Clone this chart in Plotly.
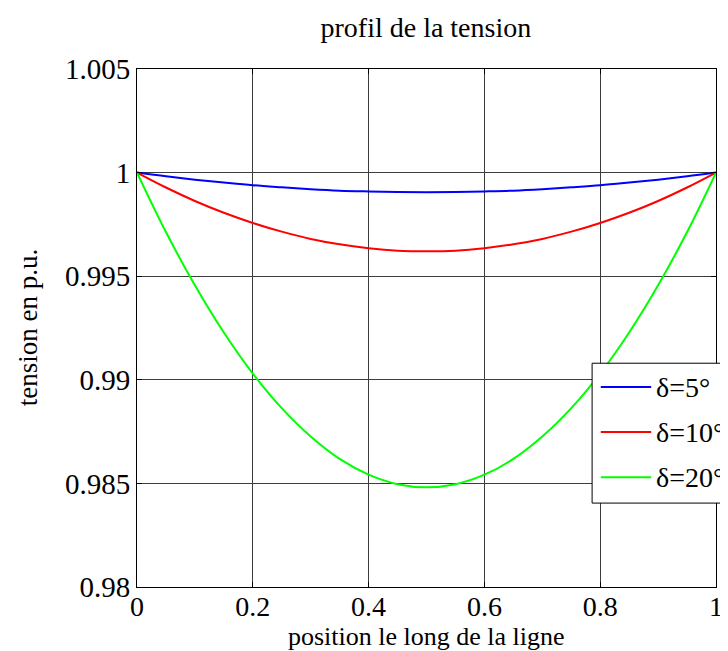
import plotly.graph_objects as go

# position along the line (p.u.)
position = [0.00, 0.05, 0.10, 0.15, 0.20, 0.25, 0.30, 0.35, 0.40, 0.45, 0.50,
            0.55, 0.60, 0.65, 0.70, 0.75, 0.80, 0.85, 0.90, 0.95, 1.00]

# voltage profiles
v_delta5 = [1.00000, 0.99982, 0.99966, 0.99952, 0.99939, 0.99929, 0.99920, 0.99913,
            0.99909, 0.99906, 0.99905, 0.99906, 0.99909, 0.99913, 0.99920, 0.99929,
            0.99939, 0.99952, 0.99966, 0.99982, 1.00000]
v_delta10 = [1.00000, 0.99928, 0.99863, 0.99806, 0.99757, 0.99715, 0.99680, 0.99654,
             0.99635, 0.99623, 0.99620, 0.99623, 0.99635, 0.99654, 0.99680, 0.99715,
             0.99757, 0.99806, 0.99863, 0.99928, 1.00000]
v_delta20 = [1.00000, 0.99713, 0.99456, 0.99228, 0.99030, 0.98863, 0.98726, 0.98618,
             0.98542, 0.98496, 0.98481, 0.98496, 0.98542, 0.98618, 0.98726, 0.98863,
             0.99030, 0.99228, 0.99456, 0.99713, 1.00000]

series_names = ["δ=5°", "δ=10°", "δ=20°"]
series_colors = ["#0000ff", "#ff0000", "#00ff00"]

x_tickvals = [0, 0.2, 0.4, 0.6, 0.8, 1]
x_ticktext = ["0", "0.2", "0.4", "0.6", "0.8", "1"]
y_tickvals = [0.98, 0.985, 0.99, 0.995, 1.0, 1.005]
y_ticktext = ["0.98", "0.985", "0.99", "0.995", "1", "1.005"]

FONT = "Liberation Serif, Times New Roman, serif"
TICK_SIZE = 29
LABEL_SIZE = 27

fig = go.Figure()
for name, vals, col in zip(series_names, [v_delta5, v_delta10, v_delta20], series_colors):
    fig.add_trace(go.Scatter(x=position, y=vals, mode="lines", name=name,
                             line=dict(color=col, width=2, shape="spline"),
                             showlegend=False))

axis_common = dict(showline=True, linecolor="black", linewidth=1, mirror="ticks",
                   ticks="inside", ticklen=5, tickcolor="black",
                   showgrid=True, gridcolor="#3c3c3c", gridwidth=1, zeroline=False)

fig.update_xaxes(range=[0, 1], tickvals=x_tickvals, ticktext=x_ticktext,
                 ticklabelstandoff=-6,
                 tickfont=dict(family=FONT, size=28, color="black"), **axis_common)
fig.update_yaxes(range=[0.98, 1.005], tickvals=y_tickvals, ticktext=y_ticktext,
                 tickfont=dict(family=FONT, size=TICK_SIZE, color="black"), **axis_common)

# legend drawn manually (box clipped at right edge like the reference)
lx0, lx1, ly0, ly1 = 0.786, 1.15, 0.162, 0.432
shapes = [dict(type="rect", xref="paper", yref="paper", x0=lx0, x1=lx1, y0=ly0, y1=ly1,
               fillcolor="white", line=dict(color="black", width=1), layer="above")]
annots = []
entry_y = [0.386, 0.299, 0.212]
for name, col, yy in zip(series_names, series_colors, entry_y):
    shapes.append(dict(type="line", xref="paper", yref="paper", x0=0.801, x1=0.888,
                       y0=yy, y1=yy, line=dict(color=col, width=2), layer="above"))
    annots.append(dict(xref="paper", yref="paper", x=0.893, y=yy, text=name,
                       showarrow=False, xanchor="left", yanchor="middle",
                       font=dict(family=FONT, size=28, color="black")))

# axis titles
annots.append(dict(xref="paper", yref="paper", x=0.5, y=-0.128, yanchor="bottom",
                   xanchor="center", showarrow=False, text="position le long de la ligne",
                   font=dict(family=FONT, size=26, color="black")))
annots.append(dict(xref="paper", yref="paper", x=-0.188, y=0.5, yanchor="middle",
                   xanchor="center", showarrow=False, text="tension en p.u.", textangle=-90,
                   font=dict(family=FONT, size=LABEL_SIZE, color="black")))

fig.update_layout(
    width=728, height=651,
    margin=dict(l=129, r=20, t=61, b=72, autoexpand=False),
    paper_bgcolor="white", plot_bgcolor="white",
    title=dict(text="profil de la tension", x=0.574, xanchor="center", y=0.97,
               yanchor="middle", font=dict(family=FONT, size=28, color="black")),
    shapes=shapes, annotations=annots,
)

fig.write_html("out.html")
